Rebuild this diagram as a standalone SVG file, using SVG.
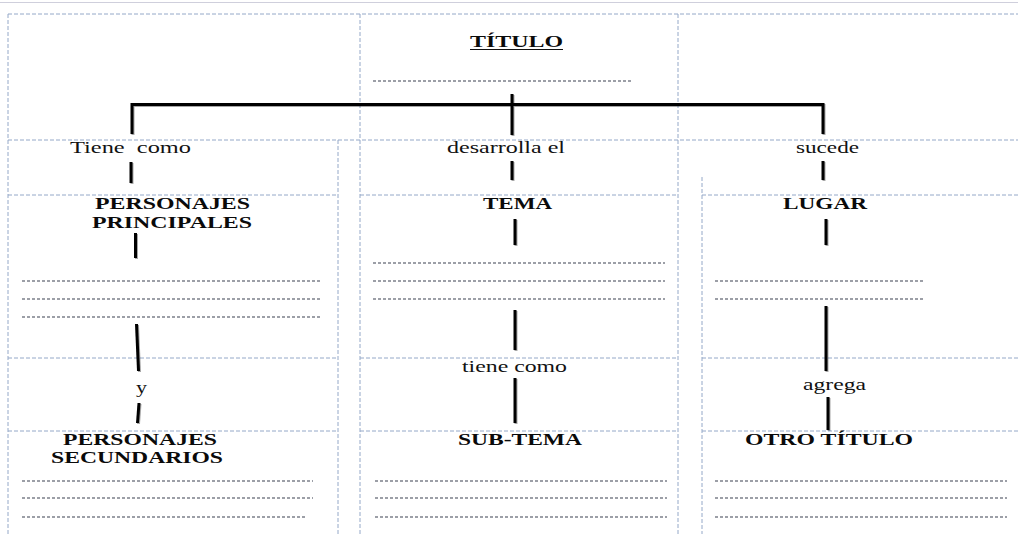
<svg xmlns="http://www.w3.org/2000/svg" width="1018" height="534" viewBox="0 0 1018 534">
  <defs>
    <filter id="soft" filterUnits="userSpaceOnUse" x="0" y="0" width="1018" height="534">
      <feDropShadow dx="1" dy="1" stdDeviation="0.7" flood-color="#000" flood-opacity="0.35"/>
    </filter>
    <style>
      .grid { stroke: #94a8c8; stroke-width: 1; stroke-dasharray: 4 2; fill: none; }
      .dots { stroke: #3a4050; stroke-width: 1.2; stroke-dasharray: 3 2; fill: none; }
      .conn { stroke: #000; stroke-width: 3; fill: none; }
      .lbl { font-family: "Liberation Serif", "Times New Roman", serif; font-size: 16px; fill: #111; }
      .head { font-family: "Liberation Serif", "Times New Roman", serif; font-size: 17.5px; font-weight: bold; fill: #0a0a0a; }
    </style>
  </defs>

  <rect width="1018" height="534" fill="#fff"/>
  <!-- page edge above the chart -->
  <line x1="0" y1="2.5" x2="1018" y2="2.5" stroke="#cfcfdc" stroke-width="1"/>

  <!-- table cell borders -->
  <g id="grid">
    <line class="grid" x1="8" y1="14" x2="1018" y2="14"/>
    <line class="grid" x1="8" y1="140" x2="1018" y2="140"/>
    <line class="grid" x1="8" y1="14" x2="8" y2="534"/>
    <line class="grid" x1="360" y1="14" x2="360" y2="534"/>
    <line class="grid" x1="678" y1="14" x2="678" y2="534"/>
    <line class="grid" x1="338" y1="140" x2="338" y2="534"/>
    <line class="grid" x1="702" y1="177" x2="702" y2="534"/>
    <line class="grid" x1="8" y1="195" x2="338" y2="195"/>
    <line class="grid" x1="360" y1="195" x2="678" y2="195"/>
    <line class="grid" x1="702" y1="195" x2="1018" y2="195"/>
    <line class="grid" x1="8" y1="358" x2="338" y2="358"/>
    <line class="grid" x1="360" y1="358" x2="678" y2="358"/>
    <line class="grid" x1="702" y1="358" x2="1018" y2="358"/>
    <line class="grid" x1="8" y1="431" x2="338" y2="431"/>
    <line class="grid" x1="360" y1="431" x2="678" y2="431"/>
    <line class="grid" x1="702" y1="431" x2="1018" y2="431"/>
  </g>

  <!-- connectors -->
  <g id="connectors" filter="url(#soft)">
    <polyline class="conn" points="132,134 132,104.5 823,104.5 823,134"/>
    <line class="conn" x1="512" y1="94" x2="512" y2="135"/>
    <line class="conn" x1="131" y1="162" x2="131" y2="183"/>
    <line class="conn" x1="512" y1="161" x2="512" y2="180"/>
    <line class="conn" x1="823" y1="161" x2="823" y2="180"/>
    <line class="conn" x1="135.5" y1="233" x2="135.5" y2="258"/>
    <line class="conn" x1="515" y1="219" x2="515" y2="245"/>
    <line class="conn" x1="826" y1="219" x2="826" y2="245"/>
    <line class="conn" x1="136.5" y1="324" x2="138.5" y2="371"/>
    <line class="conn" x1="139" y1="403" x2="137.5" y2="423"/>
    <line class="conn" x1="515" y1="310" x2="515" y2="350"/>
    <line class="conn" x1="515" y1="378" x2="515" y2="423"/>
    <line class="conn" x1="826" y1="306" x2="826" y2="371"/>
    <line class="conn" x1="828" y1="397" x2="828" y2="430"/>
  </g>

  <g id="titulo">
    <text class="head" x="470" y="47" textLength="93" lengthAdjust="spacingAndGlyphs">TÍTULO</text>
    <line x1="470" y1="49.5" x2="563" y2="49.5" stroke="#111" stroke-width="1.2"/>
    <line class="dots" x1="373" y1="81" x2="633" y2="81"/>
  </g>

  <g id="tiene-como">
    <text class="lbl" x="70" y="153" textLength="121" lengthAdjust="spacingAndGlyphs" xml:space="preserve">Tiene  como</text>
  </g>
  <g id="desarrolla-el">
    <text class="lbl" x="447" y="153" textLength="118" lengthAdjust="spacingAndGlyphs">desarrolla el</text>
  </g>
  <g id="sucede">
    <text class="lbl" x="796" y="153" textLength="63" lengthAdjust="spacingAndGlyphs">sucede</text>
  </g>

  <g id="personajes-principales">
    <text class="head" x="95" y="209" textLength="155" lengthAdjust="spacingAndGlyphs">PERSONAJES</text>
    <text class="head" x="92" y="228" textLength="160" lengthAdjust="spacingAndGlyphs">PRINCIPALES</text>
    <line class="dots" x1="22" y1="281" x2="320" y2="281"/>
    <line class="dots" x1="22" y1="299" x2="320" y2="299"/>
    <line class="dots" x1="22" y1="317" x2="320" y2="317"/>
  </g>

  <g id="tema">
    <text class="head" x="483" y="209" textLength="69" lengthAdjust="spacingAndGlyphs">TEMA</text>
    <line class="dots" x1="373" y1="263" x2="665" y2="263"/>
    <line class="dots" x1="373" y1="281" x2="665" y2="281"/>
    <line class="dots" x1="373" y1="299" x2="665" y2="299"/>
  </g>

  <g id="lugar">
    <text class="head" x="783" y="209" textLength="84" lengthAdjust="spacingAndGlyphs">LUGAR</text>
    <line class="dots" x1="715" y1="281" x2="925" y2="281"/>
    <line class="dots" x1="715" y1="299" x2="925" y2="299"/>
  </g>

  <g id="y">
    <text class="lbl" x="136" y="393" textLength="11" lengthAdjust="spacingAndGlyphs">y</text>
  </g>
  <g id="tiene-como-2">
    <text class="lbl" x="462" y="372" textLength="105" lengthAdjust="spacingAndGlyphs">tiene como</text>
  </g>
  <g id="agrega">
    <text class="lbl" x="803" y="390" textLength="63" lengthAdjust="spacingAndGlyphs">agrega</text>
  </g>

  <g id="personajes-secundarios">
    <text class="head" x="63" y="445" textLength="154" lengthAdjust="spacingAndGlyphs">PERSONAJES</text>
    <text class="head" x="51" y="463" textLength="172" lengthAdjust="spacingAndGlyphs">SECUNDARIOS</text>
    <line class="dots" x1="22" y1="481" x2="313" y2="481"/>
    <line class="dots" x1="22" y1="498" x2="313" y2="498"/>
    <line class="dots" x1="22" y1="517" x2="307" y2="517"/>
  </g>

  <g id="sub-tema">
    <text class="head" x="458" y="445" textLength="124" lengthAdjust="spacingAndGlyphs">SUB-TEMA</text>
    <line class="dots" x1="375" y1="481" x2="667" y2="481"/>
    <line class="dots" x1="375" y1="498" x2="667" y2="498"/>
    <line class="dots" x1="375" y1="517" x2="667" y2="517"/>
  </g>

  <g id="otro-titulo">
    <text class="head" x="745" y="445" textLength="168" lengthAdjust="spacingAndGlyphs">OTRO TÍTULO</text>
    <line class="dots" x1="715" y1="481" x2="1007" y2="481"/>
    <line class="dots" x1="715" y1="498" x2="1007" y2="498"/>
    <line class="dots" x1="715" y1="517" x2="1007" y2="517"/>
  </g>
</svg>
